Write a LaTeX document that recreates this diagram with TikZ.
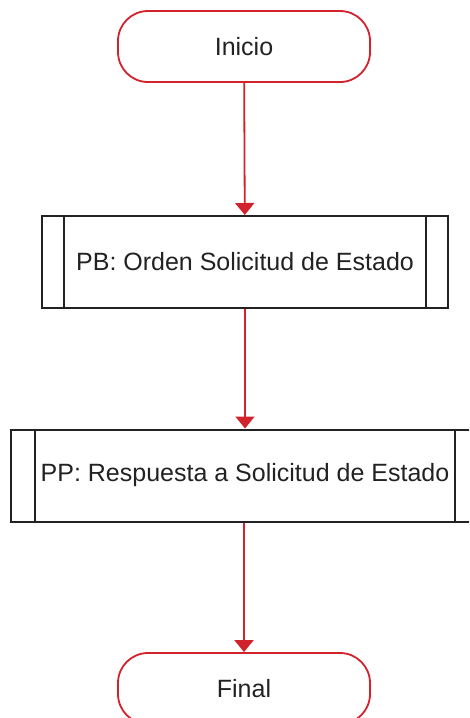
\documentclass[tikz,border=0pt]{standalone}
\usepackage{fontspec}
\setmainfont{Liberation Sans}
\usetikzlibrary{arrows.meta}
\definecolor{flowred}{RGB}{210,34,44}
\definecolor{flowtext}{RGB}{34,34,34}

\begin{document}
\begin{tikzpicture}[x=1pt,y=-1pt,
		term_style/.style={rectangle,rounded corners=30pt,draw=flowred,line width=1.8pt,
			minimum width=252pt,minimum height=71pt,text=flowtext,font=\fontsize{25}{29}\selectfont},
		sub_style/.style={rectangle,draw=flowtext,line width=2pt,minimum height=92pt,
			text=flowtext,font=\fontsize{25}{29}\selectfont,
			path picture={
				\draw[flowtext,line width=2pt] ([xshift=#1]path picture bounding box.north west) -- ([xshift=#1]path picture bounding box.south west);
				\draw[flowtext,line width=2pt] ([xshift=-#1]path picture bounding box.north east) -- ([xshift=-#1]path picture bounding box.south east);}},
		edge_style/.style={draw=flowred,line width=1.8pt,-{Triangle[length=12pt,width=19pt]}}]

		\useasboundingbox (0,0) rectangle (469,718);
		\clip (0,0) rectangle (469,718);

		\node[term_style] (inicio) at (244,46.5) {Inicio};
		\node[sub_style=22pt,minimum width=406pt] (pb) at (245,262) {PB: Orden Solicitud de Estado};
		\node[sub_style=24pt,minimum width=468pt] (pp) at (245,475.5) {PP: Respuesta a Solicitud de Estado};
		\node[term_style] (final) at (244,688.5) {Final};

		\draw[edge_style] (inicio) -- (pb);
		\draw[edge_style] (pb) -- (pp);
		\draw[edge_style] (pp.south -| final) -- (final);

\end{tikzpicture}
\end{document}
